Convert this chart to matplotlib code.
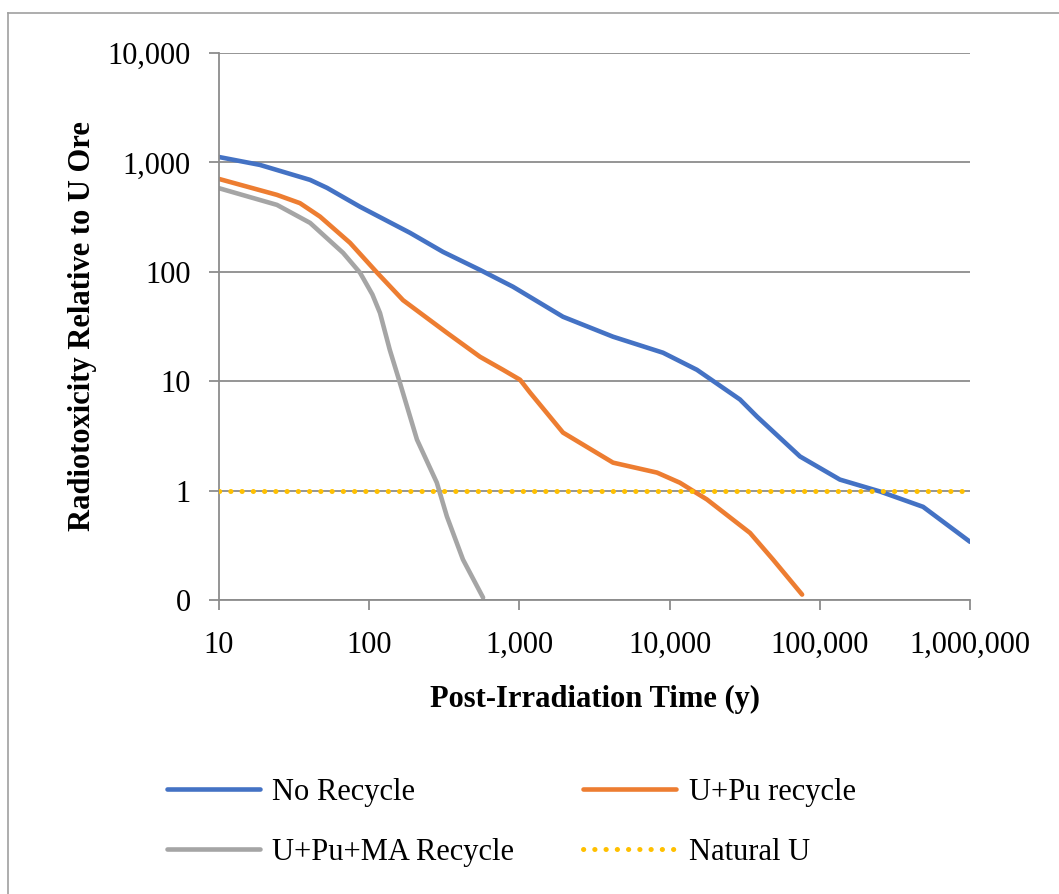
import numpy as np
import matplotlib.pyplot as plt
from matplotlib.lines import Line2D

plt.rcParams['font.family'] = ['Liberation Serif', 'DejaVu Serif']

# значения
t_no = [10, 18.7, 40.4, 52.4, 86.9, 187, 310, 547, 906, 1950, 4200, 9040, 15200,
        29400, 38200, 73800, 136000, 252000, 487000, 1000000]
v_no = [1120, 949, 692, 585, 393, 227, 152, 104, 73, 38.8, 25.5, 18.2, 12.7,
        6.8, 4.74, 2.05, 1.26, 0.98, 0.71, 0.34]

t_upu = [10, 24.3, 34.6, 47, 74.5, 113, 168, 329, 547, 778, 1010, 1178, 1950,
         4200, 8240, 11700, 17700, 34300, 48800, 76200]
v_upu = [706, 505, 424, 320, 184, 98, 55, 27.7, 16.7, 12.7, 10.3, 7.85, 3.39,
         1.8, 1.46, 1.18, 0.83, 0.41, 0.234, 0.112]

t_ma = [10, 24.3, 40.4, 67, 86.9, 105, 118, 137, 160, 208, 282, 329, 421, 573]
v_ma = [581, 409, 280, 149, 98, 62, 42, 19.4, 9.7, 2.92, 1.18, 0.58, 0.234, 0.105]

t_nat = [10, 1000000]
v_nat = [1, 1]

y_ticks = [0.1, 1, 10, 100, 1000, 10000]
y_labels = ["0", "1", "10", "100", "1,000", "10,000"]
x_ticks = [10, 100, 1000, 10000, 100000, 1000000]
x_labels = ["10", "100", "1,000", "10,000", "100,000", "1,000,000"]

fs = 22

fig = plt.figure(figsize=(10.59, 8.94), dpi=100)
ax = fig.add_axes([0.2068, 0.3289, 0.7092, 0.6118])

l_no, = ax.plot(t_no, v_no, color="#4472C4", lw=3.3, solid_capstyle="round", label="No Recycle")
l_upu, = ax.plot(t_upu, v_upu, color="#ED7D31", lw=3.3, solid_capstyle="round", label="U+Pu recycle")
l_ma, = ax.plot(t_ma, v_ma, color="#A5A5A5", lw=3.3, solid_capstyle="round", label="U+Pu+MA Recycle")
l_nat, = ax.plot(t_nat, v_nat, color="#FFC000", lw=3.6, linestyle=(0, (0.05, 2.2)),
                 dash_capstyle="round", label="Natural U", zorder=3)

ax.set_xscale("log")
ax.set_yscale("log")
ax.set_xlim(10, 1000000)
ax.set_ylim(0.1, 10000)
ax.set_xticks(x_ticks, x_labels)
ax.set_yticks(y_ticks, y_labels)
ax.minorticks_off()

ax.grid(True, axis="y", color="#8C8C8C", lw=1.3)
ax.set_axisbelow(True)
for s in ["top", "right"]:
    ax.spines[s].set_visible(False)
for s in ["left", "bottom"]:
    ax.spines[s].set_color("#8C8C8C")
    ax.spines[s].set_linewidth(1.3)
ax.tick_params(colors="#8C8C8C", labelcolor="black", labelsize=fs, length=7.2, width=1.3)
ax.tick_params(axis="x", pad=15)
ax.tick_params(axis="y", pad=13)

ax.set_xlabel("Post-Irradiation Time (y)", fontsize=fs, fontweight="bold", labelpad=18)
ax.set_ylabel("Radiotoxicity Relative to U Ore", fontsize=fs, fontweight="bold", labelpad=8)

# порядок задан так, чтобы строки шли как в оригинале
fig.legend([l_no, l_ma, l_upu, l_nat],
           ["No Recycle", "U+Pu+MA Recycle", "U+Pu recycle", "Natural U"],
           loc="upper left", bbox_to_anchor=(167 / 1059, 1 - 778 / 894),
           bbox_transform=fig.transFigure, borderpad=0, borderaxespad=0,
           ncol=2, frameon=False, fontsize=fs, handlelength=3.05, handletextpad=0.4,
           columnspacing=2.25, labelspacing=1.0)

# рамка диаграммы (видны только левая и верхняя стороны)
fig.add_artist(Line2D([8 / 1059, 8 / 1059], [0, 1 - 13 / 894], color="#A0A0A0", lw=1.2))
fig.add_artist(Line2D([8 / 1059, 1], [1 - 13 / 894, 1 - 13 / 894], color="#A0A0A0", lw=1.2))

fig.savefig("out.png", dpi=100)
